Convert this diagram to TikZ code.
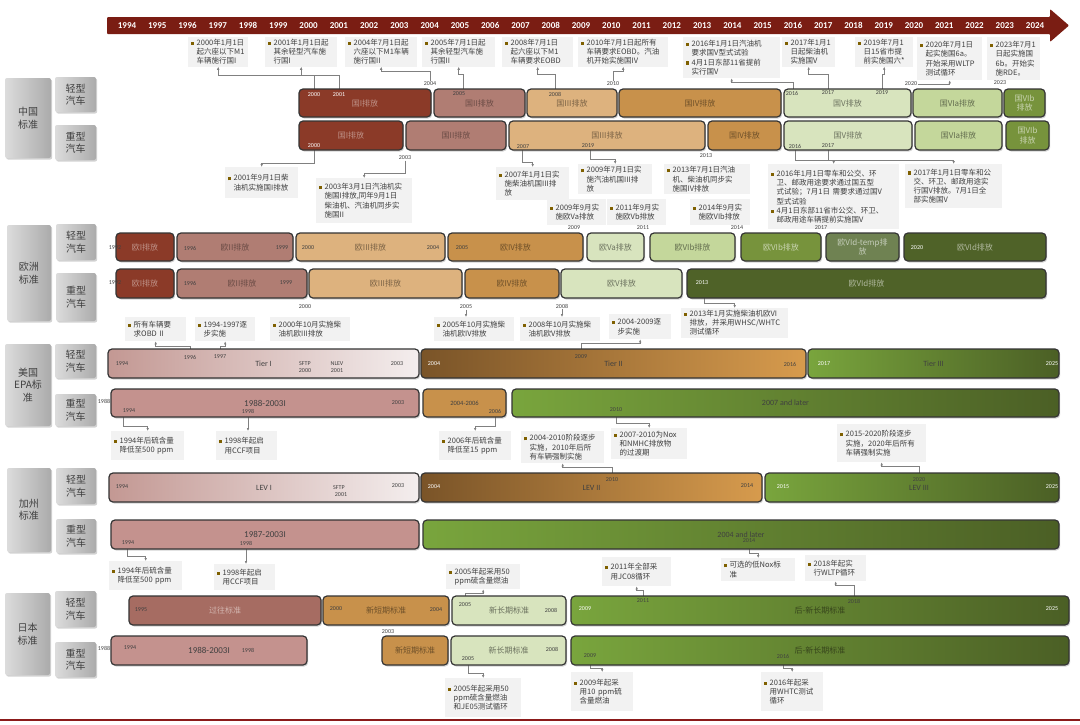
\documentclass[tikz,border=0pt]{standalone}
\usepackage{fontspec}
\setmainfont{Carlito}
\newfontfamily\cjk{Noto Sans CJK SC}
\usetikzlibrary{shadows,arrows.meta}
\pgfdeclarelayer{back}\pgfdeclarelayer{bg}\pgfsetlayers{back,bg,main}
\definecolor{axisc}{HTML}{7A1D13}
\definecolor{cI}{HTML}{8B3A28}
\definecolor{cII}{HTML}{B07D73}
\definecolor{cIII}{HTML}{DDB27E}
\definecolor{cIV}{HTML}{C8914B}
\definecolor{cV}{HTML}{D8E4BE}
\definecolor{cVIa}{HTML}{C4D79B}
\definecolor{cVIb}{HTML}{77933C}
\definecolor{cVIdt}{HTML}{6F8252}
\definecolor{cVId}{HTML}{4F6228}
\definecolor{cJP}{HTML}{A66C62}
\definecolor{cRoseL}{HTML}{C39893}
\definecolor{cRoseR}{HTML}{F4EEEE}
\definecolor{cRose}{HTML}{C4928E}
\definecolor{cBrL}{HTML}{7A5428}
\definecolor{cBrR}{HTML}{D79B4D}
\definecolor{cGrL}{HTML}{79A53D}
\definecolor{cGrR}{HTML}{4B5F25}
\definecolor{catL}{HTML}{DCDCDC}
\definecolor{catR}{HTML}{ABABAB}
\definecolor{bord}{HTML}{343434}
\definecolor{annof}{HTML}{F2F2F2}
\definecolor{annot}{HTML}{3F3F3F}
\definecolor{bulc}{HTML}{7F6000}
\definecolor{connc}{HTML}{808080}
\definecolor{ydc}{HTML}{404040}
\definecolor{redline}{HTML}{8B1A1A}
\newcommand\mybul{{\color{bulc}\rule[0.6pt]{3.2pt}{3.2pt}}\hspace{2.3pt}}
\newcommand\myind{\hspace*{5.5pt}}
\newcommand\mkbox[7][]{%
 \pgfmathsetmacro\mybw{#5-#3}\pgfmathsetmacro\mybh{#6-#4}%
 \pgfmathsetmacro\mybx{(#3+#5)/2}\pgfmathsetmacro\myby{(#4+#6)/2}%
 \node[#1,minimum width=\mybw pt,minimum height=\mybh pt] (#2) at (\mybx,\myby) {#7};}
\newcommand\anno[6]{%
 \pgfmathsetmacro\myaw{#4-#2-6}\pgfmathsetmacro\myah{#5-#3}%
 \node[annobox,text width=\myaw pt,minimum height=\myah pt,anchor=north west] (#1) at (#2,#3) {#6};}
\tikzset{
 shad/.style={drop shadow={shadow xshift=1.2pt,shadow yshift=-1.5pt,opacity=0.35}},
 barbase/.style={draw=bord,line width=1.2pt,rounded corners=4pt,inner sep=0pt,outer sep=0pt,shad,align=center,font=\cjk\fontsize{8}{9.5}\selectfont},
 sI/.style={fill=cI,text=cI!55!white},
 sII/.style={fill=cII,text=cII!60!black},
 sIII/.style={fill=cIII,text=cIII!55!black},
 sIV/.style={fill=cIV,text=cIV!55!black},
 sV/.style={fill=cV,text=cV!50!black},
 sVIa/.style={fill=cVIa,text=cVIa!50!black},
 sVIb/.style={fill=cVIb,text=cVIb!40!white},
 sVIdt/.style={fill=cVIdt,text=cVIdt!40!white},
 sVId/.style={fill=cVId,text=cVId!45!white},
 sJP/.style={fill=cJP,text=cJP!50!white},
 gRose/.style={left color=cRoseL,right color=cRoseR,text=ydc},
 fRose/.style={fill=cRose,text=ydc},
 gBrown/.style={left color=cBrL,right color=cBrR,text=ydc},
 gGreen/.style={left color=cGrL,right color=cGrR,text=ydc},
 gGreenJ/.style={left color=cGrL,right color=cGrR,text=cVId!70!black},
 lat/.style={font=\fontsize{8}{9.5}\selectfont},
 latbig/.style={font=\fontsize{9}{10}\selectfont},
 latsm/.style={font=\fontsize{6.5}{7.5}\selectfont},
 catbox/.style={rounded corners=2pt,left color=catL,right color=catR,shad,inner sep=0pt,align=center,text=ydc,font=\cjk\fontsize{10}{12.5}\selectfont},
 annobox/.style={fill=annof,text=annot,inner xsep=3pt,inner ysep=2pt,align=left,font=\cjk\fontsize{7.5}{9.2}\selectfont},
 conn/.style={draw=connc,line width=0.55pt,-{Latex[length=3pt,width=2.6pt]}},
 yd/.style={inner sep=0.5pt,text=ydc,font=\fontsize{6}{7}\selectfont},
 yw/.style={inner sep=0.5pt,text=white,font=\fontsize{6}{7}\selectfont},
 axyr/.style={inner sep=0pt,text=white,font=\bfseries\fontsize{9}{10}\selectfont},
}
\begin{document}
\begin{tikzpicture}[x=1pt,y=-1pt]
\useasboundingbox (0,0) rectangle (1080,724);
\begin{pgfonlayer}{back}
\fill[white] (0,0) rectangle (1080,724);
\end{pgfonlayer}

% ---------- time axis ----------
\fill[axisc,rounded corners=1pt] (107,17) -- (1050,17) -- (1050,9) -- (1069,25.5) -- (1050,42) -- (1050,34) -- (107,34) -- cycle;
\foreach \yy in {1994,...,2024} \node[axyr] (ax\yy) at ({127+30.27*(\yy-1994)},25.5) {\yy};

% ---------- category boxes ----------
\mkbox[catbox]{cnbig}{5}{78}{51}{158}{中国\\标准}
\mkbox[catbox]{cnlt}{55}{77}{96}{112}{轻型\\汽车}
\mkbox[catbox]{cnhv}{55}{125}{96}{160}{重型\\汽车}
\mkbox[catbox]{eubig}{7}{225}{51}{321}{欧洲\\标准}
\mkbox[catbox]{eult}{56}{224}{96}{260}{轻型\\汽车}
\mkbox[catbox]{euhv}{56}{273}{96}{321}{重型\\汽车}
\mkbox[catbox]{usbig}{5}{344}{51}{426}{美国\\EPA标\\准}
\mkbox[catbox]{uslt}{55}{344}{96}{378}{轻型\\汽车}
\mkbox[catbox]{ushv}{55}{394}{96}{426}{重型\\汽车}
\mkbox[catbox]{cabig}{7}{468}{51}{552}{加州\\标准}
\mkbox[catbox]{calt}{56}{468}{96}{504}{轻型\\汽车}
\mkbox[catbox]{cahv}{56}{519}{96}{553}{重型\\汽车}
\mkbox[catbox]{jpbig}{5}{593}{50}{675}{日本\\标准}
\mkbox[catbox]{jplt}{55}{591}{96}{627}{轻型\\汽车}
\mkbox[catbox]{jphv}{55}{642}{96}{677}{重型\\汽车}

% ---------- annotation boxes ----------
\anno{A1}{188}{37}{248}{66}{\mybul 2000年1月1日\\\myind 起六座以下M1\\\myind 车辆施行国I}
\anno{A2}{265}{37}{337}{66}{\mybul 2001年1月1日起\\\myind 其余轻型汽车施\\\myind 行国I}
\anno{A3}{345}{37}{417}{66}{\mybul 2004年7月1日起\\\myind 六座以下M1车辆\\\myind 施行国II}
\anno{A4}{422}{37}{495}{66}{\mybul 2005年7月1日起\\\myind 其余轻型汽车施\\\myind 行国II}
\anno{A5}{502}{37}{573}{66}{\mybul 2008年7月1日\\\myind 起六座以下M1\\\myind 车辆要求EOBD}
\anno{A6}{578}{37}{668}{66}{\mybul 2010年7月1日起所有\\\myind 车辆要求EOBD。汽油\\\myind 机开始实施国IV}
\anno{A7}{683}{37}{780}{78}{\mybul 2016年1月1日汽油机\\\myind 要求国V型式试验\\\mybul 4月1日东部11省提前\\\myind 实行国V}
\anno{A8}{782}{37}{835}{66}{\mybul 2017年1月1\\\myind 日起柴油机\\\myind 实施国V}
\anno{A9}{855}{37}{913}{66}{\mybul 2019年7月1\\\myind 日15省市提\\\myind 前实施国六*}
\anno{A10}{917}{37}{982}{80}{\mybul 2020年7月1日\\\myind 起实施国6a。\\\myind 开始采用WLTP\\\myind 测试循环}
\anno{A11}{987}{37}{1040}{80}{\mybul 2023年7月1\\\myind 日起实施国\\\myind 6b。开始实\\\myind 施RDE。}

\anno{B1}{225}{167}{298}{198}{\mybul 2001年9月1日柴\\\myind 油机实施国I排放}
\anno{B2}{316}{178}{412}{223}{\mybul 2003年3月1日汽油机实\\\myind 施国I排放,同年9月1日\\\myind 柴油机、汽油机同步实\\\myind 施国II}
\anno{B3}{496}{167}{569}{200}{\mybul 2007年1月1日实\\\myind 施柴油机国III排\\\myind 放}
\anno{B4}{578}{164}{652}{194}{\mybul 2009年7月1日实\\\myind 施汽油机国III排\\\myind 放}
\anno{B5}{664}{164}{750}{194}{\mybul 2013年7月1日汽油\\\myind 机、柴油机同步实\\\myind 施国IV排放}
\anno{B6}{768}{164}{899}{229}{\mybul 2016年1月1日零车和公交、环\\\myind 卫、邮政用途要求通过国五型\\\myind 式试验；7月1日 需要求通过国V\\\myind 型式试验\\\mybul 4月1日东部11省市公交、环卫、\\\myind 邮政用途车辆提前实施国V}
\anno{B7}{905}{164}{1002}{208}{\mybul 2017年1月1日零车和公\\\myind 交、环卫、邮政用途实\\\myind 行国V排放。7月1日全\\\myind 部实施国V}
\anno{B8}{547}{199}{606}{225}{\mybul 2009年9月实\\\myind 施欧Va排放}
\anno{B9}{607}{199}{666}{225}{\mybul 2011年9月实\\\myind 施欧Vb排放}
\anno{B10}{690}{199}{750}{225}{\mybul 2014年9月实\\\myind 施欧VIb排放}

\anno{C1}{125}{317}{186}{341}{\mybul 所有车辆要\\\myind 求OBD II}
\anno{C2}{195}{317}{255}{341}{\mybul 1994-1997逐\\\myind 步实施}
\anno{C3}{270}{317}{350}{341}{\mybul 2000年10月实施柴\\\myind 油机欧III排放}
\anno{C4}{434}{317}{514}{341}{\mybul 2005年10月实施柴\\\myind 油机欧IV排放}
\anno{C5}{520}{317}{600}{341}{\mybul 2008年10月实施柴\\\myind 油机欧V排放}
\anno{C6}{609}{314}{671}{339}{\mybul 2004-2009逐\\\myind 步实施}
\anno{C7}{681}{308}{788}{337}{\mybul 2013年1月实施柴油机欧VI\\\myind 排放，并采用WHSC/WHTC\\\myind 测试循环}

\anno{D1}{111}{431}{184}{460}{\mybul 1994年后硫含量\\\myind 降低至500 ppm}
\anno{D2}{216}{431}{277}{460}{\mybul 1998年起启\\\myind 用CCF项目}
\anno{D3}{439}{431}{511}{460}{\mybul 2006年后硫含量\\\myind 降低至15 ppm}
\anno{D4}{521}{431}{604}{463}{\mybul 2004-2010阶段逐步\\\myind 实施，2010年后所\\\myind 有车辆强制实施}
\anno{D5}{611}{428}{687}{459}{\mybul 2007-2010为Nox\\\myind 和NMHC排放物\\\myind 的过渡期}
\anno{D6}{837}{424}{926}{462}{\mybul 2015-2020阶段逐步\\\myind 实施，2020年后所有\\\myind 车辆强制实施}

\anno{E1}{109}{561}{182}{590}{\mybul 1994年后硫含量\\\myind 降低至500 ppm}
\anno{E2}{214}{564}{275}{590}{\mybul 1998年起启\\\myind 用CCF项目}
\anno{E3}{446}{564}{520}{589}{\mybul 2005年起采用50\\\myind ppm硫含量燃油}
\anno{E4}{602}{557}{671}{586}{\mybul 2011年全部采\\\myind 用JC08循环}
\anno{E5}{721}{558}{795}{581}{\mybul 可选的低Nox标\\\myind 准}
\anno{E6}{805}{555}{866}{581}{\mybul 2018年起实\\\myind 行WLTP循环}

\anno{F1}{445}{678}{521}{717}{\mybul 2005年起采用50\\\myind ppm硫含量燃油\\\myind 和JE05测试循环}
\anno{F2}{571}{672}{633}{711}{\mybul 2009年起采\\\myind 用10 ppm硫\\\myind 含量燃油}
\anno{F3}{761}{672}{823}{711}{\mybul 2016年起采\\\myind 用WHTC测试\\\myind 循环}

% ---------- bars ----------
\mkbox[barbase,sI]{cl1}{299}{89}{431}{117}{国I排放}
\mkbox[barbase,sII]{cl2}{434}{89}{525}{117}{国II排放}
\mkbox[barbase,sIII]{cl3}{527}{89}{617}{117}{国III排放}
\mkbox[barbase,sIV]{cl4}{619}{89}{781}{117}{国IV排放}
\mkbox[barbase,sV]{cl5}{784}{89}{911}{117}{国V排放}
\mkbox[barbase,sVIa]{cl6}{913}{89}{1002}{117}{国VIa排放}
\mkbox[barbase,sVIb]{cl7}{1004}{89}{1045}{117}{国VIb\\排放}

\mkbox[barbase,sI]{ch1}{299}{121}{403}{150}{国I排放}
\mkbox[barbase,sII]{ch2}{406}{121}{506}{150}{国II排放}
\mkbox[barbase,sIII]{ch3}{509}{121}{705}{150}{国III排放}
\mkbox[barbase,sIV]{ch4}{708}{121}{781}{150}{国IV排放}
\mkbox[barbase,sV]{ch5}{784}{121}{912}{150}{国V排放}
\mkbox[barbase,sVIa]{ch6}{915}{121}{1002}{150}{国VIa排放}
\mkbox[barbase,sVIb]{ch7}{1006}{121}{1049}{150}{国VIb\\排放}

\mkbox[barbase,sI]{el1}{116}{233}{174}{261}{欧I排放}
\mkbox[barbase,sII]{el2}{177}{233}{293}{261}{欧II排放}
\mkbox[barbase,sIII]{el3}{296}{233}{445}{261}{欧III排放}
\mkbox[barbase,sIV]{el4}{448}{233}{583}{261}{欧IV排放}
\mkbox[barbase,sV]{el5}{587}{233}{644}{261}{欧Va排放}
\mkbox[barbase,sVIa]{el6}{650}{233}{735}{261}{欧VIb排放}
\mkbox[barbase,sVIb]{el7}{741}{233}{821}{261}{欧VIb排放}
\mkbox[barbase,sVIdt]{el8}{826}{233}{899}{261}{欧VId-temp排\\放}
\mkbox[barbase,sVId]{el9}{904}{233}{1046}{261}{欧VId排放}

\mkbox[barbase,sI]{eh1}{116}{269}{174}{298}{欧I排放}
\mkbox[barbase,sII]{eh2}{177}{269}{307}{298}{欧II排放}
\mkbox[barbase,sIII]{eh3}{309}{269}{462}{298}{欧III排放}
\mkbox[barbase,sIV]{eh4}{465}{269}{559}{298}{欧IV排放}
\mkbox[barbase,sV]{eh5}{561}{269}{682}{298}{欧V排放}
\mkbox[barbase,sVId]{eh6}{687}{269}{1046}{298}{欧VId排放}

\mkbox[barbase,gRose,lat]{ul1}{108}{349}{419}{378}{Tier I}
\mkbox[barbase,gBrown,lat]{ul2}{421}{349}{806}{378}{Tier II}
\mkbox[barbase,gGreen,lat]{ul3}{808}{349}{1059}{378}{Tier III}
\mkbox[barbase,fRose,latbig]{uh1}{111}{389}{419}{417}{1988-2003I}
\mkbox[barbase,fill=cIV,text=ydc,latsm]{uh2}{423}{389}{506}{417}{2004-2006}
\mkbox[barbase,gGreen,lat]{uh3}{512}{389}{1059}{417}{2007 and later}

\mkbox[barbase,gRose,lat]{cal1}{109}{473}{419}{502}{LEV I}
\mkbox[barbase,gBrown,lat]{cal2}{421}{473}{762}{502}{LEV II}
\mkbox[barbase,gGreen,lat]{cal3}{765}{473}{1059}{502}{}
\mkbox[barbase,fRose,latbig]{cah1}{111}{520}{419}{549}{1987-2003I}
\mkbox[barbase,gGreen,lat]{cah2}{423}{520}{1059}{549}{2004 and later}

\mkbox[barbase,sJP]{jl1}{129}{596}{321}{625}{过往标准}
\mkbox[barbase,sIV]{jl2}{323}{596}{449}{625}{新短期标准}
\mkbox[barbase,sV]{jl3}{452}{596}{566}{625}{新长期标准}
\mkbox[barbase,gGreenJ]{jl4}{571}{596}{1069}{625}{后-新长期标准}
\mkbox[barbase,fRose,latbig]{jh1}{111}{636}{307}{665}{1988-2003I}
\mkbox[barbase,sIV]{jh2}{382}{636}{448}{665}{新短期标准}
\mkbox[barbase,sV]{jh3}{451}{636}{566}{665}{新长期标准}
\mkbox[barbase,gGreenJ]{jh4}{571}{636}{1069}{665}{后-新长期标准}

% ---------- year labels ----------
\node[yw] (cl2000) at (314,95) {2000};
\node[yw] (cl2001) at (339,95) {2001};
\node[yd] (cl2005) at (459,94) {2005};
\node[yd] (cl2008) at (555,94) {2008};
\node[yd] (cl2016) at (792,93) {2016};
\node[yd] (cl2017) at (828,93) {2017};
\node[yd] (cl2019) at (882,93) {2019};
\node[yd] (t2004) at (430,84) {2004};
\node[yd] (t2010) at (613,84) {2010};
\node[yd] (t2020) at (911,84) {2020};
\node[yd] (t2023) at (1000,83) {2023};
\node[yw] (ch2000) at (314,146) {2000};
\node[yd] (ch2007) at (523,147) {2007};
\node[yd] (ch2019) at (588,146) {2019};
\node[yd] (ch2016) at (795,146) {2016};
\node[yd] (ch2017) at (828,146) {2017};
\node[yd] (b2003) at (405,158) {2003};
\node[yd] (b2013) at (706,156) {2013};

\node[yd] (e2009) at (574,228) {2009};
\node[yd] (e2011) at (643,228) {2011};
\node[yd] (e2014) at (737,228) {2014};
\node[yd] (e2017) at (821,228) {2017};
\node[yd] (el1992) at (115,248) {1992};
\node[yd] (el1996) at (190,248) {1996};
\node[yd] (el1999) at (282,248) {1999};
\node[yd] (el2000) at (308,248) {2000};
\node[yd] (el2004) at (433,248) {2004};
\node[yd] (el2005) at (462,248) {2005};
\node[yw] (el2020) at (917,248) {2020};
\node[yd] (eh1992) at (115,283) {1992};
\node[yd] (eh1996) at (190,283) {1996};
\node[yd] (eh1999) at (286,283) {1999};
\node[yw] (eh2013) at (702,283) {2013};
\node[yd] (e2000b) at (305,307) {2000};
\node[yd] (e2005b) at (466,307) {2005};
\node[yd] (e2008b) at (562,306) {2008};

\node[yd] (ul1994) at (122,364) {1994};
\node[yd] (ul1996) at (190,357) {1996};
\node[yd] (ul1997) at (220,357) {1997};
\node[yd] (ulsftp) at (305,364) {SFTP};
\node[yd] (ul2000) at (305,371) {2000};
\node[yd] (ulnlev) at (337,364) {NLEV};
\node[yd] (ul2001) at (337,371) {2001};
\node[yd] (ul2003) at (397,364) {2003};
\node[yw] (ul2004) at (434,364) {2004};
\node[yd] (ul2009) at (581,357) {2009};
\node[yd] (ul2016) at (790,364) {2016};
\node[yw] (ul2017) at (824,364) {2017};
\node[yw] (ul2025) at (1052,364) {2025};
\node[yd] (uh1988) at (104,401) {1988};
\node[yd] (uh1994) at (129,411) {1994};
\node[yd] (uh1998) at (248,411) {1998};
\node[yd] (uh2003) at (398,403) {2003};
\node[yd] (uh2006) at (495,411) {2006};
\node[yd] (uh2010) at (616,410) {2010};

\node[yd] (ca1994) at (122,487) {1994};
\node[yd] (casftp) at (339,488) {SFTP};
\node[yd] (ca2001) at (341,495) {2001};
\node[yd] (ca2003) at (398,486) {2003};
\node[yw] (ca2004) at (434,487) {2004};
\node[yd] (ca2010) at (612,480) {2010};
\node[yd] (ca2014) at (747,486) {2014};
\node[yw] (ca2015) at (783,487) {2015};
\node[yd] (ca2020) at (919,480) {2020};
\node[ydc,inner sep=0pt,lat] (calev3) at (919,488) {LEV III};
\node[yw] (ca2025) at (1052,487) {2025};
\node[yd] (cah1994) at (128,543) {1994};
\node[yd] (cah1998) at (246,543) {1998};
\node[yd] (cah2014) at (749,541) {2014};

\node[yd] (jl1995) at (141,610) {1995};
\node[yd] (jl2000) at (336,609) {2000};
\node[yd] (jl2004) at (436,610) {2004};
\node[yd] (jl2005) at (465,605) {2005};
\node[yd] (jl2008) at (551,610) {2008};
\node[yw] (jl2009) at (585,609) {2009};
\node[yd] (jl2011) at (643,601) {2011};
\node[yd] (jl2018) at (854,601) {2018};
\node[yw] (jl2025) at (1052,609) {2025};
\node[yd] (jh1988) at (104,648) {1988};
\node[yd] (jh1994) at (130,648) {1994};
\node[yd] (jh1998) at (248,650) {1998};
\node[yd] (jh2003) at (388,632) {2003};
\node[yd] (jh2005) at (468,659) {2005};
\node[yd] (jh2008) at (552,649) {2008};
\node[yd] (jh2009) at (590,656) {2009};
\node[yd] (jh2016) at (783,656) {2016};

% ---------- connector anchor points on bar edges ----------
\coordinate (ka1) at (314,89);
\coordinate (ka2) at (339,89);
\coordinate (ka4) at (463,89);
\coordinate (ka5) at (555,89);
\coordinate (ka7) at (793,89);
\coordinate (ka8) at (828,89);
\coordinate (ka9) at (882,89);
\coordinate (kb1) at (314,150);
\coordinate (kb3) at (522,150);
\coordinate (kb4) at (590,150);
\coordinate (kb6) at (795,150);
\coordinate (kb7) at (828,150);
\coordinate (kc7) at (704,298);
\coordinate (kd1) at (123,417);
\coordinate (kd2) at (248,417);
\coordinate (kd3) at (495,417);
\coordinate (kd5) at (616,417);
\coordinate (ke1) at (127,549);
\coordinate (ke2) at (246,549);

\begin{pgfonlayer}{bg}
\draw[conn] (ka1) |- ([yshift=-9pt]A1.south) -- (A1.south);
\draw[conn] (ka2) |- ([yshift=-9pt]A2.south) -- (A2.south);
\draw[conn] (t2004.north) |- ([yshift=-5pt]A3.south) -- (A3.south);
\draw[conn] (ka4) |- ([yshift=-8pt]A4.south) -- (A4.south);
\draw[conn] (ka5) |- ([yshift=-8pt]A5.south) -- (A5.south);
\draw[conn] (t2010.north) |- ([yshift=-5pt]A6.south) -- (A6.south);
\draw[conn] (ka7) |- ([yshift=-4pt]A7.south) -- (A7.south);
\draw[conn] (ka8) |- ([yshift=-8pt]A8.south) -- (A8.south);
\draw[conn] (ka9) |- ([yshift=-8pt]A9.south) -- (A9.south);
\draw[conn] (t2020.east) -| (A10.south);
\draw[conn] (kb1) |- ([yshift=4pt]B1.north) -- (B1.north);
\draw[conn] (b2003.south) |- ([yshift=5pt]B2.north) -- (B2.north);
\draw[conn] (kb3) |- ([yshift=5pt]B3.north) -- (B3.north);
\draw[conn] (kb4) |- ([yshift=5pt]B4.north) -- (B4.north);
\draw[conn] (kb6) |- ([yshift=4pt]B6.north) -- (B6.north);
\draw[conn] (kb7) |- ([yshift=4pt]B7.north) -- (B7.north);
\draw[conn] (ul1996.north) |- ([yshift=-5pt]C1.south) -- (C1.south);
\draw[conn] (ul1997.north) |- ([yshift=-5pt]C2.south) -- (C2.south);
\draw[conn] (e2005b.south) -- (e2005b.south |- C4.north);
\draw[conn] (e2008b.south) -- (e2008b.south |- C5.north);
\draw[conn] (ul2009.north) |- ([yshift=-4pt]C6.south) -- (C6.south);
\draw[conn] (kc7) |- ([yshift=5pt]C7.north) -- (C7.north);
\draw[conn] (kd1) |- ([yshift=5pt]D1.north) -- (D1.north);
\draw[conn] (kd2) -- (kd2 |- D2.north);
\draw[conn] (kd3) |- ([yshift=5pt]D3.north) -- (D3.north);
\draw[conn] (ca2010.north) |- ([yshift=-4pt]D4.south) -- (D4.south);
\draw[conn] (kd5) |- ([yshift=5pt]D5.north) -- (D5.north);
\draw[conn] (ca2020.north) |- ([yshift=-4pt]D6.south) -- (D6.south);
\draw[conn] (ke1) |- ([yshift=5pt]E1.north) -- (E1.north);
\draw[conn] (ke2) -- (ke2 |- E2.north);
\draw[conn] (jl2005.north) |- ([yshift=-4pt]E3.south) -- (E3.south);
\draw[conn] (jl2011.north) |- ([yshift=-4pt]E4.south) -- (E4.south);
\draw[conn] (cah2014.south) |- ([yshift=5pt]E5.north) -- (E5.north);
\draw[conn] (jl2018.north) |- ([yshift=-4pt]E6.south) -- (E6.south);
\draw[conn] (jh2005.south) |- ([yshift=5pt]F1.north) -- (F1.north);
\draw[conn] (jh2009.south) |- ([yshift=4pt]F2.north) -- (F2.north);
\draw[conn] (jh2016.south) |- ([yshift=4pt]F3.north) -- (F3.north);
\end{pgfonlayer}

% ---------- bottom rule ----------
\draw[redline,line width=2pt] (0,720) -- (1080,720);
\end{tikzpicture}
\end{document}
